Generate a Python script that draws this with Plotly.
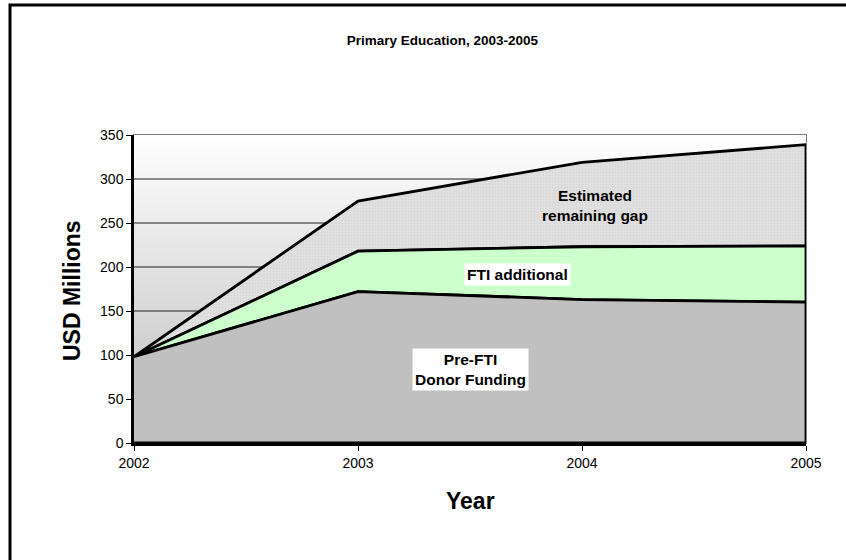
import plotly.graph_objects as go

# ---- data ----
years = [2002, 2003, 2004, 2005]
pre_fti = [98, 172, 163, 160]            # Pre-FTI Donor Funding
fti_additional = [0, 46, 60, 64]         # FTI additional (stacked on pre-FTI)
remaining_gap = [0, 57, 96, 115]         # Estimated remaining gap (stacked)
y_ticks = [0, 50, 100, 150, 200, 250, 300, 350]
x_ticks = [2002, 2003, 2004, 2005]

FONT = "Liberation Sans, Arial, sans-serif"

lvl1 = pre_fti
lvl2 = [a + b for a, b in zip(lvl1, fti_additional)]
lvl3 = [a + b for a, b in zip(lvl2, remaining_gap)]
zeros = [0] * len(years)

fig = go.Figure()

# gradient plot background
fig.add_trace(go.Scatter(
    x=[years[0], years[-1], years[-1], years[0]],
    y=[y_ticks[0], y_ticks[0], y_ticks[-1], y_ticks[-1]],
    fill="toself", mode="none", hoverinfo="skip", showlegend=False,
    fillgradient=dict(type="vertical", start=y_ticks[0], stop=y_ticks[-1],
                      colorscale=[[0, "#bcbcbc"], [1, "#ffffff"]]),
))

# gridlines (drawn over the gradient, under the areas)
for v in y_ticks[1:-1]:
    fig.add_trace(go.Scatter(x=[years[0], years[-1]], y=[v, v], mode="lines",
                             line=dict(color="#222222", width=1),
                             hoverinfo="skip", showlegend=False))


def band(top, bottom, **kw):
    xs = years + years[::-1]
    ys = top + bottom[::-1]
    fig.add_trace(go.Scatter(x=xs, y=ys, fill="toself", mode="lines",
                             line=dict(color="black", width=2.8),
                             hoverinfo="skip", showlegend=False, **kw))


band(lvl3, lvl2, fillcolor="#e2e2e2",
     fillpattern=dict(shape=".", fgcolor="#c9c9c9", bgcolor="#e2e2e2",
                      size=3, solidity=0.4))
band(lvl2, lvl1, fillcolor="#ccffcc")
band(lvl1, zeros, fillcolor="#c0c0c0")

shapes = [
    # gray plot border
    dict(type="rect", xref="paper", yref="paper", x0=0, x1=1, y0=0, y1=1,
         layer="below", line=dict(color="#808080", width=2)),
    # outer chart border
    dict(type="rect", xref="paper", yref="paper",
         x0=(10 - 134) / 672, x1=(852 - 134) / 672,
         y0=(443 - 570) / 308, y1=(443 - 5) / 308,
         line=dict(color="black", width=3)),
]

LBL = dict(family=FONT, size=15.5, color="black")
annotations = [
    dict(x=0.5, y=(443 - 501) / 308, xref="paper", yref="paper",
         xanchor="center", yanchor="middle",
         text="<b>Year</b>", showarrow=False,
         font=dict(family=FONT, size=23, color="black")),
    dict(x=(72 - 134) / 672, y=(443 - 291) / 308, xref="paper", yref="paper",
         xanchor="center", yanchor="middle",
         text="<b>USD Millions</b>", textangle=-90, showarrow=False,
         font=dict(family=FONT, size=23, color="black")),
    dict(x=2004.06, y=270, text="<b>Estimated<br>remaining gap</b>",
         showarrow=False, font=LBL),
    dict(x=2003.71, y=192, text="<b>FTI additional</b>", showarrow=False,
         bgcolor="white", borderpad=2, font=LBL),
    dict(x=2003.5, y=83, text="<b>Pre-FTI<br>Donor Funding</b>",
         showarrow=False, bgcolor="white", borderpad=2, font=LBL),
]

fig.update_layout(
    width=846, height=560,
    margin=dict(l=134, r=40, t=135, b=117),
    paper_bgcolor="white", plot_bgcolor="white",
    title=dict(text="<b>Primary Education, 2003-2005</b>", x=0.523,
               xref="container", xanchor="center", y=1 - 40 / 560,
               yanchor="middle",
               font=dict(family=FONT, size=13.5, color="black")),
    xaxis=dict(range=[years[0], years[-1]], tickvals=x_ticks,
               ticktext=[str(t) for t in x_ticks], showgrid=False,
               zeroline=False, showline=True, linecolor="black", linewidth=2.5,
               ticks="outside", ticklen=5, tickcolor="black",
               tickfont=dict(family=FONT, size=14, color="black")),
    yaxis=dict(range=[y_ticks[0], y_ticks[-1]], tickvals=y_ticks,
               showgrid=False, zeroline=False, showline=True,
               linecolor="black", linewidth=2.5, ticks="outside", ticklen=5,
               tickcolor="black",
               tickfont=dict(family=FONT, size=14, color="black")),
    shapes=shapes, annotations=annotations,
)

fig.write_html("out.html")
